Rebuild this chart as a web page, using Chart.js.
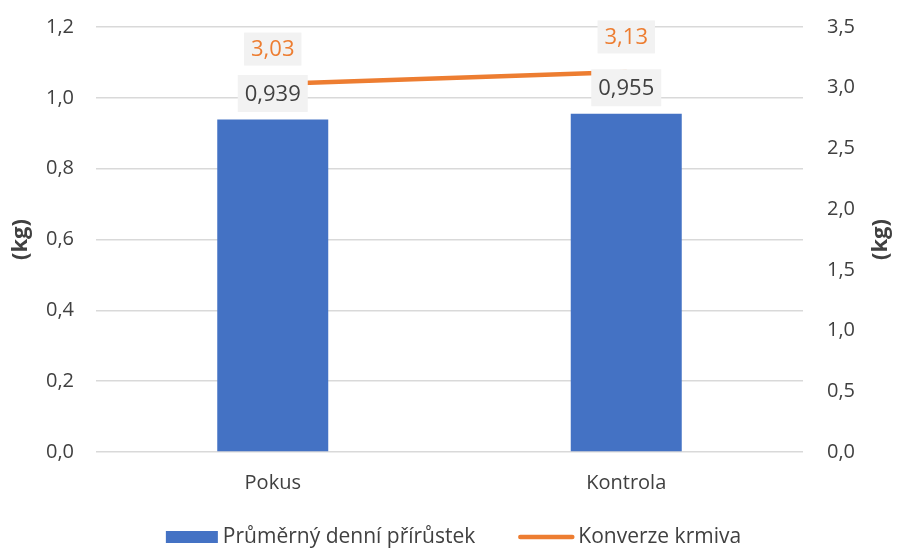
<!DOCTYPE html>
<html>
<head>
<meta charset="utf-8">
<script src="https://cdn.jsdelivr.net/npm/chart.js@4"></script>
<style>
  html, body { margin: 0; padding: 0; background: #fff; }
  #wrap { width: 899px; height: 549px; }
</style>
</head>
<body>
<div id="wrap"><canvas id="myChart"></canvas></div>
<script>
const categories = ["Pokus", "Kontrola"];
const dailyGain = [0.939, 0.955];
const feedConversion = [3.03, 3.13];
const seriesNames = ["Průměrný denní přírůstek", "Konverze krmiva"];
const axisTitle = "(kg)";

const FONT = "'Open Sans', sans-serif";
const TEXT = "#404040";
const BLUE = "#4472C4";
const ORANGE = "#ED7D31";

function comma(v, d) {
  return v.toFixed(d).replace(".", ",");
}

// fixed axis width, no extra padding from tick labels
function fixY(scale) {
  scale.width = 96;
  scale.paddingTop = 0;
  scale.paddingBottom = 0;
}

// value boxes, rotated axis titles and the legend row
const extras = {
  id: "extras",
  afterDraw(chart) {
    const ctx = chart.ctx;
    const area = chart.chartArea;
    ctx.save();

    // data labels
    ctx.font = "22px " + FONT;
    ctx.textAlign = "center";
    ctx.textBaseline = "middle";
    chart.data.datasets.forEach(function (ds, i) {
      const meta = chart.getDatasetMeta(i);
      meta.data.forEach(function (el, j) {
        const isBar = ds.type === "bar";
        const txt = comma(ds.data[j], isBar ? 3 : 2);
        const y = isBar ? el.y - 26 : el.y - 35;
        const w = ctx.measureText(txt).width + 14;
        const h = isBar ? 37 : 33;
        ctx.fillStyle = "#f2f2f2";
        ctx.fillRect(el.x - w / 2, y - h / 2, w, h);
        ctx.fillStyle = isBar ? TEXT : ORANGE;
        ctx.fillText(txt, el.x, y + 1);
      });
    });

    // axis titles, both read bottom to top
    const midY = (area.top + area.bottom) / 2;
    ctx.font = "bold 22px " + FONT;
    ctx.fillStyle = TEXT;
    [21, 881].forEach(function (x) {
      ctx.save();
      ctx.translate(x, midY);
      ctx.rotate(-Math.PI / 2);
      ctx.fillText(axisTitle, 0, 0);
      ctx.restore();
    });

    // legend
    ctx.font = "21px " + FONT;
    ctx.textAlign = "left";
    const w1 = ctx.measureText(seriesNames[0]).width;
    const w2 = ctx.measureText(seriesNames[1]).width;
    const total = 52 + 5 + w1 + 43 + 56 + 4 + w2;
    let x = (chart.width - total) / 2 + 4;
    const ly = 537;
    ctx.fillStyle = BLUE;
    ctx.fillRect(x, ly - 6, 52, 12);
    x += 57;
    ctx.fillStyle = TEXT;
    ctx.fillText(seriesNames[0], x, ly);
    x += w1 + 43;
    ctx.strokeStyle = ORANGE;
    ctx.lineWidth = 4.5;
    ctx.lineCap = "round";
    ctx.beginPath();
    ctx.moveTo(x + 2, ly);
    ctx.lineTo(x + 54, ly);
    ctx.stroke();
    x += 60;
    ctx.fillText(seriesNames[1], x, ly);

    ctx.restore();
  }
};

document.addEventListener("DOMContentLoaded", function () {
  new Chart("myChart", {
    data: {
      labels: categories,
      datasets: [
        {
          type: "bar",
          label: seriesNames[0],
          data: dailyGain,
          backgroundColor: BLUE,
          yAxisID: "y",
          barPercentage: 0.314,
          categoryPercentage: 1,
        },
        {
          type: "line",
          label: seriesNames[1],
          data: feedConversion,
          borderColor: ORANGE,
          backgroundColor: ORANGE,
          borderWidth: 4.5,
          borderCapStyle: "round",
          pointRadius: 0,
          fill: false,
          yAxisID: "y1",
        },
      ],
    },
    options: {
      responsive: true,
      maintainAspectRatio: false,
      animation: false,
      layout: { padding: { top: 27, left: 0, right: 0, bottom: 0 } },
      scales: {
        x: {
          grid: { display: false, drawTicks: false },
          border: { display: false },
          ticks: { color: TEXT, font: { family: FONT, size: 20 }, padding: 19 },
          afterFit(scale) {
            scale.height = 97;
            scale.paddingLeft = 0;
            scale.paddingRight = 0;
          },
        },
        y: {
          position: "left",
          min: 0,
          max: 1.2,
          ticks: {
            stepSize: 0.2,
            color: TEXT,
            padding: 22,
            font: { family: FONT, size: 20 },
            callback: function (v) { return comma(v, 1); },
          },
          grid: { color: "#d9d9d9", lineWidth: 1.5, drawTicks: false },
          border: { display: false },
          afterFit: fixY,
        },
        y1: {
          position: "right",
          min: 0,
          max: 3.5,
          ticks: {
            stepSize: 0.5,
            color: TEXT,
            padding: 24,
            font: { family: FONT, size: 20 },
            callback: function (v) { return comma(v, 1); },
          },
          grid: { display: false, drawTicks: false },
          border: { display: false },
          afterFit: fixY,
        },
      },
      plugins: {
        legend: { display: false },
        tooltip: { enabled: false },
      },
    },
    plugins: [extras],
  });
});
</script>
</body>
</html>
